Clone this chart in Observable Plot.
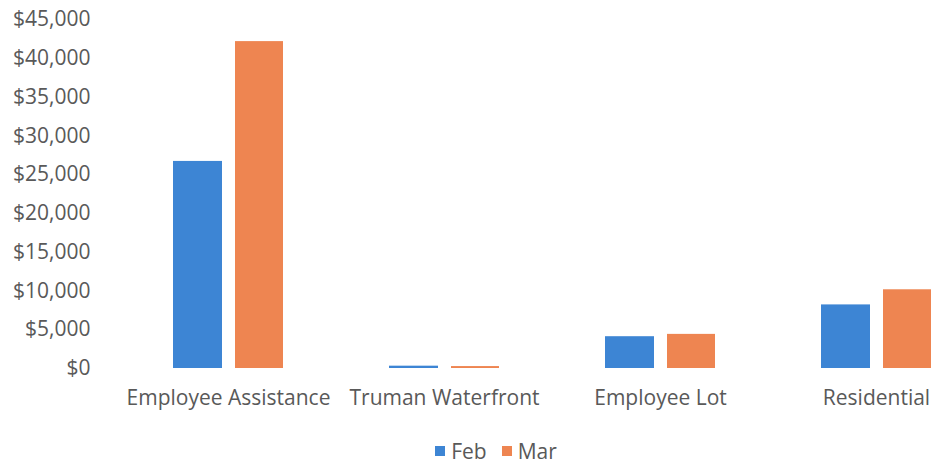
<!DOCTYPE html>
<html>
<head>
<meta charset="utf-8">
<script src="https://cdn.jsdelivr.net/npm/d3@7"></script>
<script src="https://cdn.jsdelivr.net/npm/@observablehq/plot@0.6"></script>
<style>
  html, body { margin: 0; padding: 0; background: #fff; }
  #chart { width: 934px; overflow: hidden; }
  .legend { display: flex; justify-content: center; gap: 15px; margin-top: 12px; margin-left: 58px;
    font-family: "Open Sans", sans-serif; font-size: 21px; color: #595959; }
  .legend span.item { display: flex; align-items: center; gap: 6px; }
  .legend span.sw { width: 10px; height: 10px; display: inline-block; }
</style>
</head>
<body>
<div id="chart"></div>
<script>
const categories = ["Employee Assistance", "Truman Waterfront", "Employee Lot", "Residential"];
const series = ["Feb", "Mar"];
const febValues = [26700, 300, 4100, 8200];
const marValues = [42150, 250, 4400, 10150];
const yTicks = [0, 5000, 10000, 15000, 20000, 25000, 30000, 35000, 40000, 45000];
const colors = ["#3D85D4", "#EE8551"];

const rows = categories.flatMap((c, i) => [
  {category: c, series: "Feb", value: febValues[i]},
  {category: c, series: "Mar", value: marValues[i]}
]);

const chart = Plot.plot({
  width: 934,
  height: 425,
  marginLeft: 119,
  marginRight: -50,
  marginTop: 19,
  marginBottom: 57,
  style: {fontFamily: "'Open Sans', sans-serif", fontSize: "21px", color: "#595959", background: "#fff"},
  x: {domain: categories, padding: 0, label: null},
  y: {domain: [0, 45000], ticks: yTicks, label: null},
  color: {domain: series, range: colors},
  marks: [
    Plot.axisY({ticks: yTicks, tickSize: 0, tickPadding: 29, tickFormat: d => "$" + d3.format(",")(d), label: null, fontSize: 21}),
    Plot.axisX({tickSize: 0, tickPadding: 22, label: null, fontSize: 21}),
    Plot.barY(rows.filter(d => d.series === "Feb"), {x: "category", y: "value", fill: "series", insetLeft: 53, insetRight: 114}),
    Plot.barY(rows.filter(d => d.series === "Mar"), {x: "category", y: "value", fill: "series", insetLeft: 115, insetRight: 53})
  ]
});
document.getElementById("chart").appendChild(chart);

const legend = document.createElement("div");
legend.className = "legend";
series.forEach((s, i) => {
  const item = document.createElement("span");
  item.className = "item";
  const sw = document.createElement("span");
  sw.className = "sw";
  sw.style.background = colors[i];
  item.appendChild(sw);
  item.appendChild(document.createTextNode(s));
  legend.appendChild(item);
});
document.body.appendChild(legend);
</script>
</body>
</html>
